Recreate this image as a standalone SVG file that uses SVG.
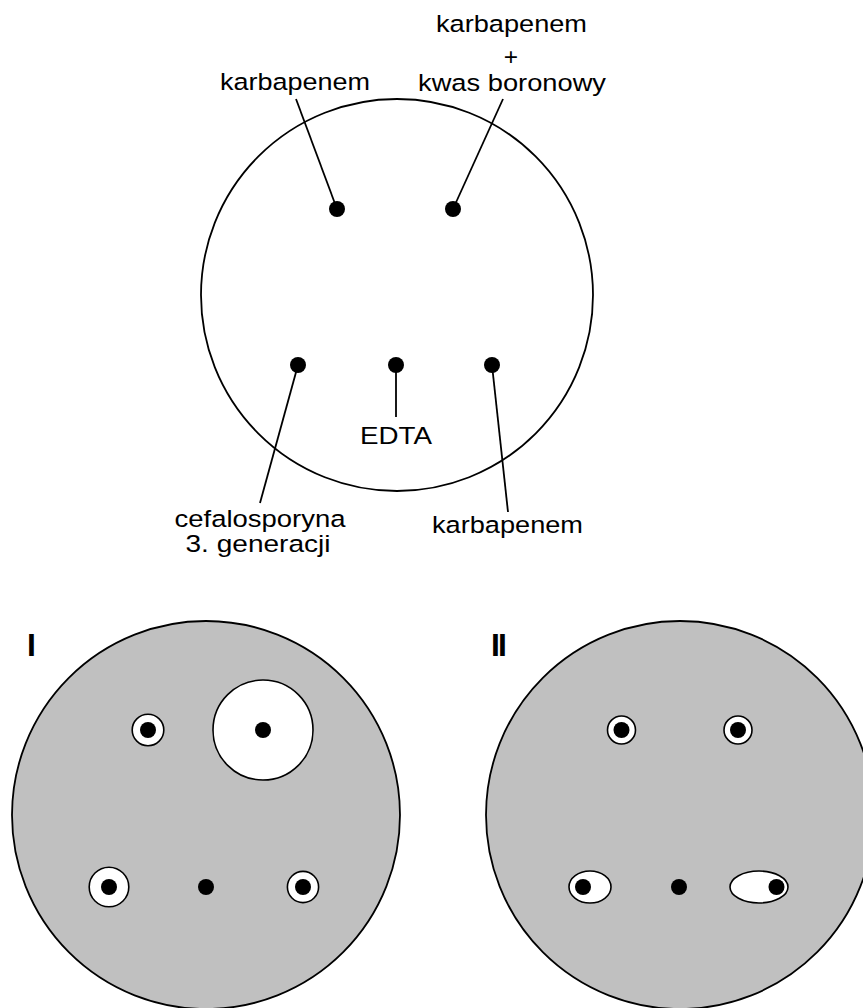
<svg xmlns="http://www.w3.org/2000/svg" width="863" height="1008" viewBox="0 0 863 1008">
<style>
.plate{fill:#fff;stroke:#000;stroke-width:1.8}
.agar{fill:#c0c0c0;stroke:#000;stroke-width:1.8}
.zone{fill:#fff;stroke:#000;stroke-width:1.6}
.disc{fill:#000}
.lead{stroke:#000;stroke-width:1.8;fill:none}
.lbl{font-family:"Liberation Sans",Arial,sans-serif;font-size:24.5px;fill:#000;text-anchor:middle}
.num{font-family:"Liberation Sans",Arial,sans-serif;font-size:32px;font-weight:bold;fill:#000}
</style>
<rect width="863" height="1008" fill="#fff"/>
<g id="plate-top">
<circle class="plate" cx="397" cy="295" r="196"/>
</g>
<g id="connectors">
<line class="lead" x1="296" y1="99" x2="337" y2="209"/>
<line class="lead" x1="503" y1="99" x2="453" y2="209"/>
<line class="lead" x1="298" y1="365" x2="260" y2="503"/>
<line class="lead" x1="396" y1="365" x2="396" y2="417"/>
<line class="lead" x1="492" y1="365" x2="508" y2="512"/>
</g>
<g id="disc-karbapenem-1"><circle class="disc" cx="337" cy="209" r="8"/>
<text class="lbl" x="295" y="90" textLength="150" lengthAdjust="spacingAndGlyphs">karbapenem</text></g>
<g id="disc-karbapenem-boron"><circle class="disc" cx="453" cy="209" r="8"/>
<text class="lbl" x="511.5" y="32" textLength="151" lengthAdjust="spacingAndGlyphs">karbapenem</text>
<text class="lbl" x="511" y="64.5">+</text>
<text class="lbl" x="512" y="90.5" textLength="188" lengthAdjust="spacingAndGlyphs">kwas boronowy</text></g>
<g id="disc-cefalosporyna"><circle class="disc" cx="298" cy="365" r="8"/>
<text class="lbl" x="260" y="527" textLength="171" lengthAdjust="spacingAndGlyphs">cefalosporyna</text>
<text class="lbl" x="258" y="551.5" textLength="145" lengthAdjust="spacingAndGlyphs">3. generacji</text></g>
<g id="disc-edta"><circle class="disc" cx="396" cy="365" r="8"/>
<text class="lbl" x="396" y="444" textLength="72" lengthAdjust="spacingAndGlyphs">EDTA</text></g>
<g id="disc-karbapenem-2"><circle class="disc" cx="492" cy="365" r="8"/>
<text class="lbl" x="507.5" y="533" textLength="151" lengthAdjust="spacingAndGlyphs">karbapenem</text></g>
<g id="plate-I">
<circle class="agar" cx="206" cy="815" r="194"/>
<text class="num" x="27" y="656">I</text>
<circle class="zone" cx="148" cy="730" r="15.8"/><circle class="disc" cx="148" cy="730" r="8"/>
<circle class="zone" cx="263" cy="730" r="50"/><circle class="disc" cx="263" cy="730" r="8"/>
<circle class="zone" cx="109" cy="887" r="19.8"/><circle class="disc" cx="109" cy="887" r="8"/>
<circle class="disc" cx="206" cy="887" r="8"/>
<circle class="zone" cx="303" cy="887" r="15.6"/><circle class="disc" cx="303" cy="887" r="8"/>
</g>
<g id="plate-II">
<circle class="agar" cx="680" cy="815" r="194"/>
<text class="num" x="491" y="656" letter-spacing="-1.8">II</text>
<circle class="zone" cx="621.5" cy="730" r="14"/><circle class="disc" cx="621.5" cy="730" r="8"/>
<circle class="zone" cx="738" cy="730" r="14"/><circle class="disc" cx="738" cy="730" r="8"/>
<ellipse class="zone" cx="590" cy="887" rx="21" ry="16"/><circle class="disc" cx="583" cy="887" r="8"/>
<circle class="disc" cx="679" cy="887" r="8"/>
<ellipse class="zone" cx="759" cy="887" rx="29" ry="16"/><circle class="disc" cx="776.5" cy="887" r="8"/>
</g>
</svg>
